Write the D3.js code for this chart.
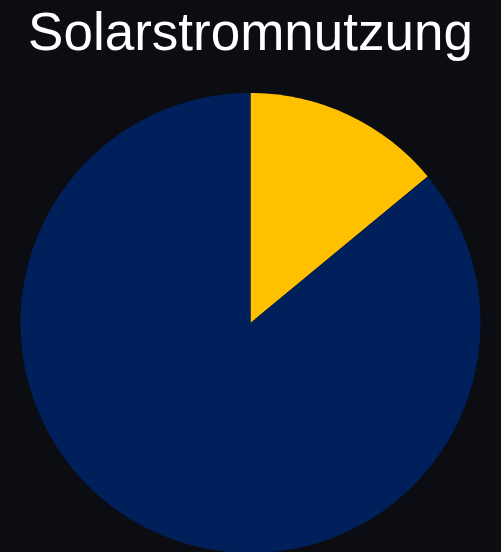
<!DOCTYPE html>
<html><head><meta charset="utf-8">
<script src="https://cdn.jsdelivr.net/npm/d3@7"></script>
<style>html,body{margin:0;padding:0;background:#0b0d12;overflow:hidden}</style>
</head><body>
<svg id="c" width="501" height="552"></svg>
<script>
const categories = ["Eigenverbrauch", "Netzeinspeisung"];
const values = [14, 86];
const colors = ["#ffc000", "#00205b"];
const title = "Solarstromnutzung";

const svg = d3.select("#c");
svg.append("rect").attr("width", 501).attr("height", 552).attr("fill", "#0b0d12");
svg.append("text").attr("x", 250.5).attr("y", 50).attr("text-anchor", "middle")
  .attr("fill", "#ffffff").attr("font-family", "Liberation Sans, Arial, sans-serif")
  .attr("font-size", 53).text(title);

const pie = d3.pie().sort(null)(values);
const arc = d3.arc().innerRadius(0).outerRadius(230);
const color = d3.scaleOrdinal().domain(categories).range(colors);
svg.append("g").attr("transform", "translate(250.5,323)")
  .selectAll("path").data(pie).join("path")
  .attr("d", arc).attr("fill", (d, i) => color(categories[i]));
</script>
</body></html>
